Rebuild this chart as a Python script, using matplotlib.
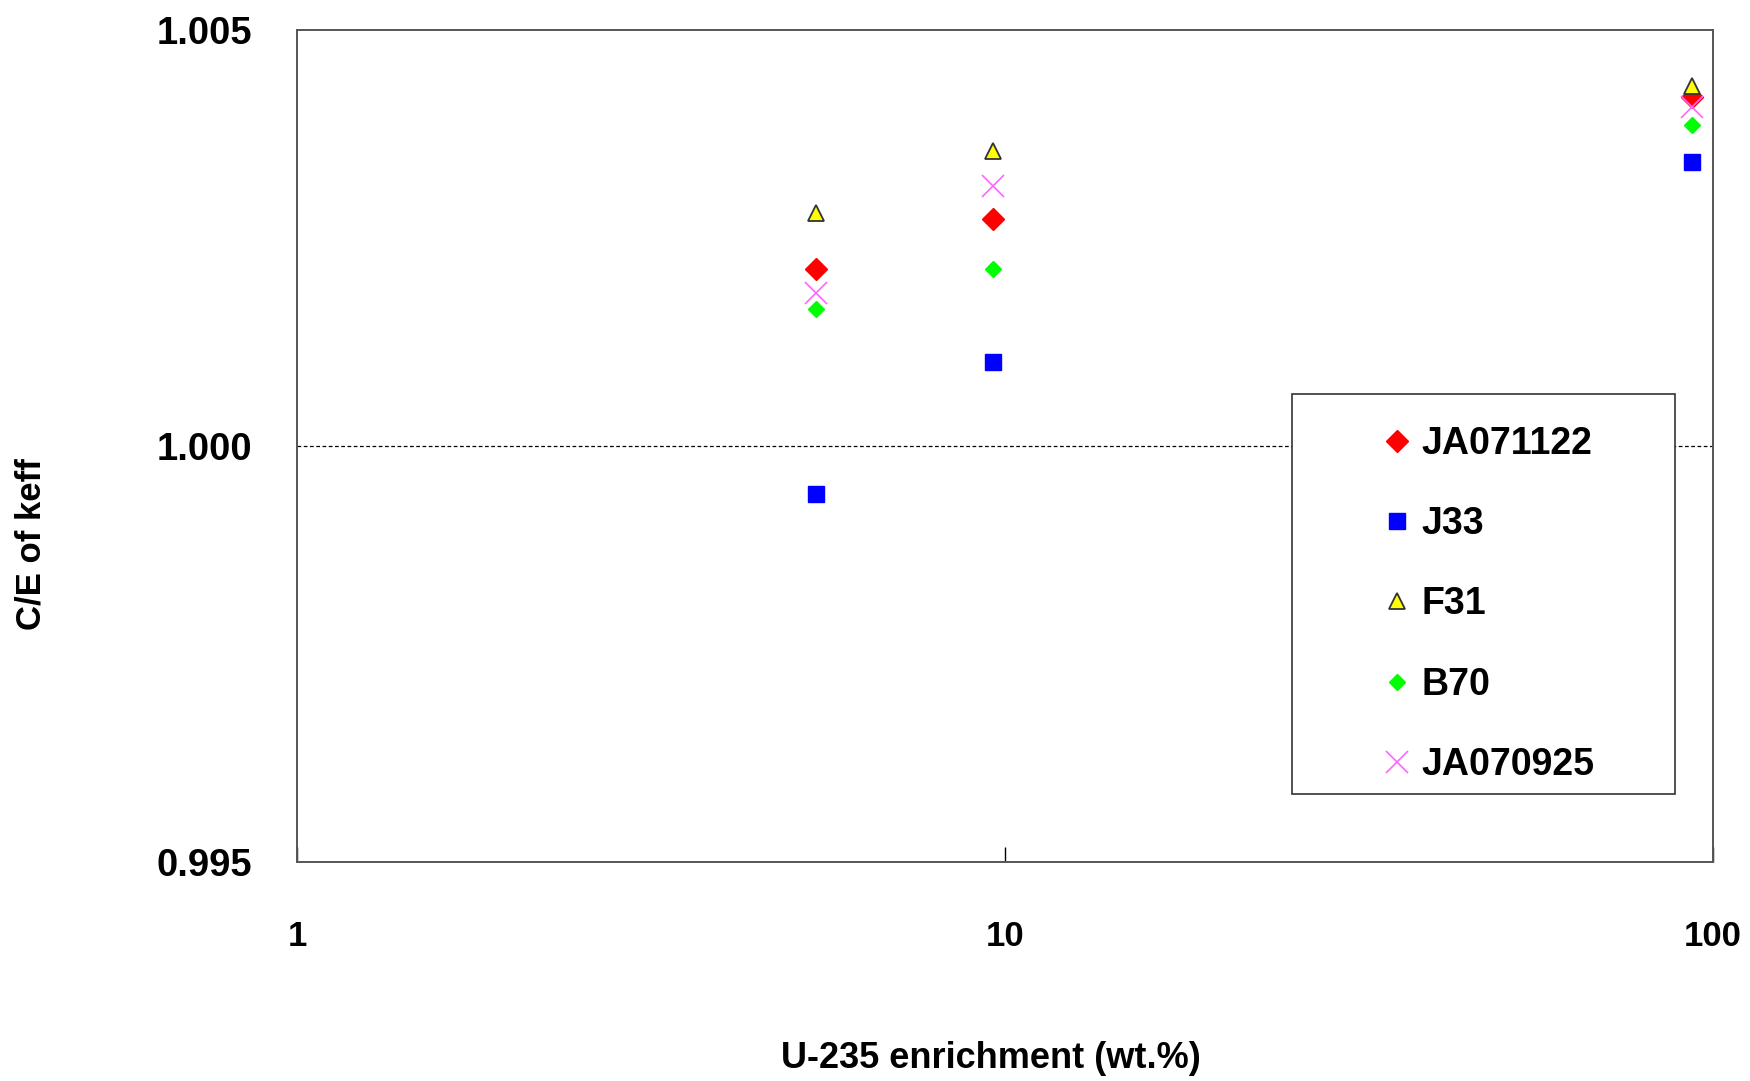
import matplotlib
matplotlib.use("Agg")
import matplotlib.pyplot as plt
from matplotlib.patches import Rectangle
from matplotlib.ticker import FixedLocator, FixedFormatter, NullLocator

# ---- data ----
enrichment = [5.41, 9.63, 93.3]
series_names = ["JA071122", "J33", "F31", "B70", "JA070925"]
ja071122 = [1.00213, 1.00273, 1.00419]
j33 = [0.99942, 1.00101, 1.00341]
f31 = [1.00280, 1.00354, 1.00433]
b70 = [1.00165, 1.00213, 1.00386]
ja070925 = [1.00184, 1.00312, 1.00407]
x_ticks = [1, 10, 100]
x_tick_labels = ["1", "10", "100"]
y_ticks = [0.995, 1.000, 1.005]
y_tick_labels = ["0.995", "1.000", "1.005"]

plt.rcParams['font.family'] = ['Liberation Sans', 'DejaVu Sans']

fig = plt.figure(figsize=(17.5, 10.81), dpi=100)
ax = fig.add_axes([297/1750, 1-862/1081, (1713-297)/1750, (862-30)/1081])

ax.axhline(1.0, color='black', lw=0.9, ls=(0, (3, 2)), zorder=1)

styles = [
    dict(marker='D', color='#FF0000', ms=11.5, mec='#FF0000'),
    dict(marker='s', color='#0000FF', ms=12, mec='#0000FF'),
    dict(marker='^', color='#FFFF00', ms=12, mec='#333333', mew=1.3),
    dict(marker='D', color='#00FF00', ms=8.5, mec='#00FF00'),
    dict(marker='x', color='#FF66FF', ms=16, mew=1.2),
]
data = [ja071122, j33, f31, b70, ja070925]
handles = []
for name, vals, st in zip(series_names, data, styles):
    st = dict(st)
    c = st.pop('color')
    h, = ax.plot(enrichment, vals, ls='none', color=c, mfc=c, label=name, zorder=3, **st)
    handles.append(h)

ax.set_xscale('log')
ax.set_xlim(1, 100)
ax.set_ylim(0.995, 1.005)
ax.xaxis.set_major_locator(FixedLocator(x_ticks))
ax.xaxis.set_major_formatter(FixedFormatter(x_tick_labels))
ax.xaxis.set_minor_locator(NullLocator())
ax.yaxis.set_major_locator(FixedLocator(y_ticks))
ax.yaxis.set_major_formatter(FixedFormatter(y_tick_labels))
ax.tick_params(axis='x', direction='in', length=11, width=1, pad=42, labelsize=25)
ax.tick_params(axis='y', direction='in', length=0, width=1, pad=32, labelsize=27.5)
for lab in ax.get_xticklabels() + ax.get_yticklabels():
    lab.set_fontweight('bold')
for sp in ax.spines.values():
    sp.set_color('#555555')
    sp.set_linewidth(1.4)

fig.text(31/1750, 1-544/1081, "C/E of keff", rotation=90, ha='center', va='center',
         fontsize=25, fontweight='bold', family=['Liberation Sans Narrow', 'Liberation Sans', 'DejaVu Sans'])
fig.text(991/1750, 1-1058/1081, "U-235 enrichment (wt.%)", ha='center', va='center',
         fontsize=26, fontweight='bold', family=['Liberation Sans Narrow', 'Liberation Sans', 'DejaVu Sans'])

# legend frame
fig.patches.append(Rectangle((1292/1750, 1-794/1081), (1675-1292)/1750, (794-394)/1081,
                             transform=fig.transFigure, fill=True, facecolor='white',
                             edgecolor='#333333', lw=1.2, zorder=4))
leg = fig.legend(handles=handles, loc='upper left', bbox_to_anchor=(1386/1750, 1-426/1081),
                 frameon=False, numpoints=1, handlelength=0.6, handletextpad=0.35,
                 labelspacing=1.18, borderpad=0, borderaxespad=0,
                 prop=dict(size=27, weight='bold'))
leg.set_zorder(5)

fig.savefig("out.png", dpi=100)
